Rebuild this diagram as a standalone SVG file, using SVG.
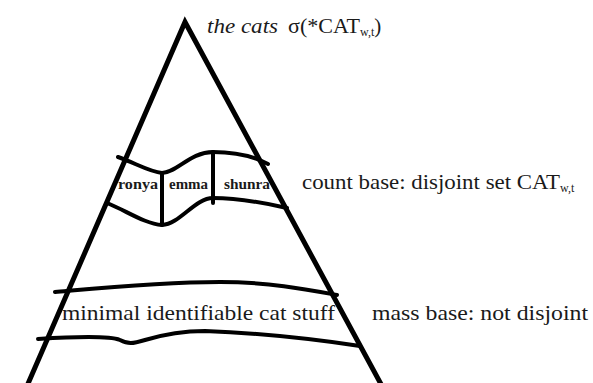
<svg xmlns="http://www.w3.org/2000/svg" width="593" height="383" viewBox="0 0 593 383">
<style>
.ln{fill:none;stroke:#000;stroke-width:4;stroke-linecap:round;stroke-linejoin:round}
.tr{fill:none;stroke:#000;stroke-width:5;stroke-linejoin:miter}
.t{font-family:"Liberation Serif","DejaVu Serif",serif;fill:#1a1a1a;font-size:21px}
.n{font-family:"Liberation Serif","DejaVu Serif",serif;fill:#1a1a1a;font-size:14px;font-weight:bold}
.s{font-size:12px}
</style>
<rect width="593" height="383" fill="#fff"/>
<g id="triangle">
<path class="tr" d="M27,386 L185,22 L382,386"/>
</g>
<g id="connectors">
<path class="ln" d="M118,157 C135,163 150,172 162,173 C178,172 190,152 213,152 C235,152 255,157 268,164"/>
<path class="ln" d="M107,203 C125,210 145,224 162,225 C180,224 195,198 213,198 C240,198 265,203 287,208"/>
<path class="ln" d="M162,173 L162,225"/>
<path class="ln" d="M213,152 L213,203"/>
<path class="ln" d="M55,292 C100,288 160,282 220,282 C270,282 310,290 337,295"/>
<path class="ln" d="M38,339 C70,337 110,336 120,340 C128,344 132,344 145,340 C165,334 185,331 205,331 C260,333 320,340 360,346"/>
</g>
<g id="top-label">
<text class="t" x="207" y="33"><tspan font-style="italic" textLength="71" lengthAdjust="spacingAndGlyphs">the cats</tspan><tspan x="288" textLength="72" lengthAdjust="spacingAndGlyphs">σ(*CAT</tspan><tspan class="s" dy="3">w,t</tspan><tspan dy="-3">)</tspan></text>
</g>
<g id="cats">
<text class="n" x="118" y="189" textLength="40" lengthAdjust="spacingAndGlyphs">ronya</text>
<text class="n" x="169" y="189" textLength="39" lengthAdjust="spacingAndGlyphs">emma</text>
<text class="n" x="224" y="189" textLength="46" lengthAdjust="spacingAndGlyphs">shunra</text>
</g>
<g id="count-label">
<text class="t" x="302" y="189"><tspan textLength="258" lengthAdjust="spacingAndGlyphs">count base: disjoint set CAT</tspan><tspan class="s" dy="3">w,t</tspan></text>
</g>
<g id="mass">
<text class="t" x="62" y="320" textLength="273" lengthAdjust="spacingAndGlyphs">minimal identifiable cat stuff</text>
<text class="t" x="372" y="320" textLength="216" lengthAdjust="spacingAndGlyphs">mass base: not disjoint</text>
</g>
</svg>
